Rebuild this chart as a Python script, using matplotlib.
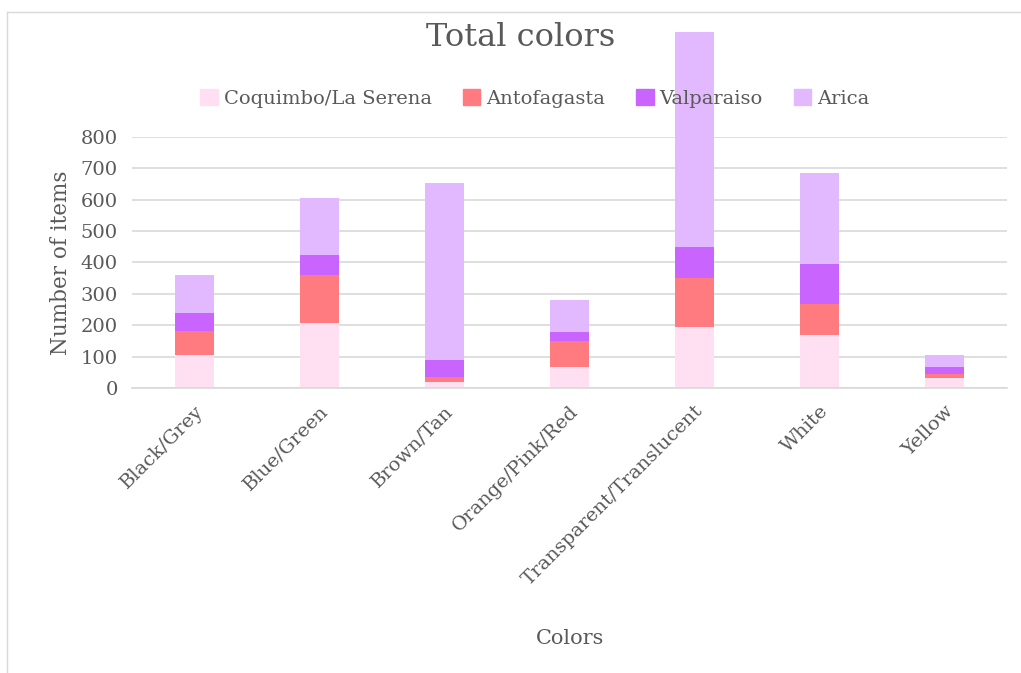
import matplotlib.pyplot as plt
import numpy as np
from matplotlib.lines import Line2D

# --- Data ---
categories = ["Black/Grey", "Blue/Green", "Brown/Tan", "Orange/Pink/Red",
              "Transparent/Translucent", "White", "Yellow"]
coquimbo = [105, 208, 19, 68, 195, 169, 31]
antofagasta = [78, 152, 15, 82, 154, 98, 13]
valparaiso = [55, 64, 55, 27, 101, 128, 24]
arica = [122, 181, 563, 103, 683, 289, 37]

series = [("Coquimbo/La Serena", coquimbo, "#FFDFF1"),
          ("Antofagasta", antofagasta, "#FF7B7F"),
          ("Valparaiso", valparaiso, "#CA64FF"),
          ("Arica", arica, "#E2B8FF")]

# --- Style ---
plt.rcParams['font.family'] = ['DejaVu Serif']
text_color = "#595959"

fig = plt.figure(figsize=(10.21, 6.73), dpi=100)
ax = fig.add_axes([0.129, 0.4235, 0.857, 0.373])

x = np.arange(len(categories))
bottom = np.zeros(len(categories))
for name, vals, color in series:
    ax.bar(x, vals, width=0.31, bottom=bottom, color=color, label=name,
           clip_on=False, zorder=2)
    bottom += np.array(vals)

ax.set_xlim(-0.5, len(categories) - 0.5)
ax.set_ylim(0, 800)
ax.set_yticks(range(0, 801, 100))
ax.yaxis.grid(True, color="#D9D9D9", linewidth=1.2, zorder=0)
ax.set_axisbelow(True)
for s in ["top", "right", "left"]:
    ax.spines[s].set_visible(False)
ax.spines["bottom"].set_color("#D9D9D9")
ax.spines["bottom"].set_linewidth(1.2)
ax.tick_params(axis="both", length=0, colors=text_color, labelsize=14)
ax.tick_params(axis="y", pad=10)

ax.set_xticks(x)
ax.set_xticklabels(categories, rotation=45, ha="right", rotation_mode="anchor",
                   color=text_color, fontsize=14)
ax.tick_params(axis="x", pad=10)

ax.set_ylabel("Number of items", color=text_color, fontsize=15.5, labelpad=6)
fig.text(0.558, 0.052, "Colors", color=text_color, fontsize=15, ha="center",
         va="center")
fig.text(0.51, 0.945, "Total colors", color=text_color, fontsize=23, ha="center",
         va="center")

handles = [plt.Rectangle((0, 0), 1, 1, color=c) for _, _, c in series]
leg = fig.legend(handles, [n for n, _, _ in series], loc="center",
                 bbox_to_anchor=(0.524, 0.854), ncol=4, frameon=False,
                 fontsize=14, handlelength=0.9, handleheight=0.9,
                 handletextpad=0.3, columnspacing=1.6)
for t in leg.get_texts():
    t.set_color(text_color)

# chart border
fig.add_artist(Line2D([0.007, 0.007], [0.0, 0.982], color="#D9D9D9", lw=1))
fig.add_artist(Line2D([0.007, 1.0], [0.982, 0.982], color="#D9D9D9", lw=1))

fig.savefig("out.png", dpi=100)
